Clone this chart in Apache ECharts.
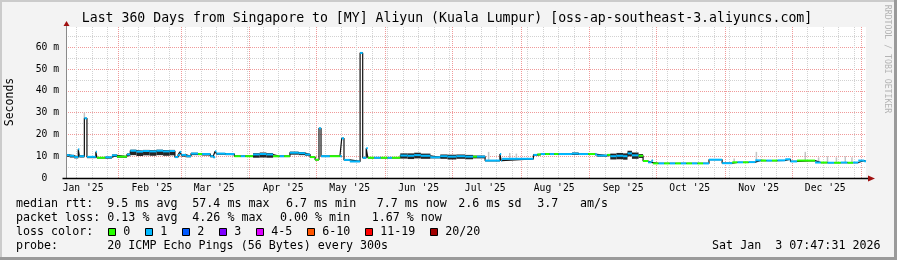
<!DOCTYPE html>
<html><head><meta charset="utf-8">
<script src="https://cdn.jsdelivr.net/npm/echarts@6/dist/echarts.min.js"></script>
<style>html,body{margin:0;padding:0;background:#f3f3f3}#c{width:897px;height:260px}</style>
</head><body><div id="c"></div>
<script>
// ---------------- data ----------------
const rangeStart = '2025-01-08T07:47';
const rangeEnd = '2026-01-03T07:47';
const times = [
'2025-01-08T08:00','2025-01-10T00:00','2025-01-12T00:00','2025-01-13T20:00','2025-01-14T08:00','2025-01-16T14:00','2025-01-17T18:00','2025-01-21T18:00','2025-01-22T06:00','2025-01-26T00:00',
'2025-01-29T00:00','2025-01-31T06:00','2025-02-04T18:00','2025-02-06T06:00','2025-02-09T00:00','2025-02-12T00:00','2025-02-15T00:00','2025-02-18T00:00','2025-02-21T00:00','2025-02-24T00:00',
'2025-02-26T08:00','2025-02-27T18:00','2025-02-28T14:00','2025-03-01T06:00','2025-03-03T10:00','2025-03-05T14:00','2025-03-08T18:00','2025-03-10T14:00','2025-03-14T06:00','2025-03-15T14:00',
'2025-03-16T10:00','2025-03-17T00:00','2025-03-21T00:00','2025-03-25T02:00','2025-03-28T00:00','2025-03-30T00:00','2025-04-02T12:00','2025-04-05T12:00','2025-04-08T12:00','2025-04-11T12:00',
'2025-04-14T12:00','2025-04-16T12:00','2025-04-19T02:00','2025-04-23T00:00','2025-04-25T22:00','2025-04-28T04:00','2025-04-30T10:00','2025-05-02T04:00','2025-05-03T02:00','2025-05-07T02:00',
'2025-05-11T14:00','2025-05-12T10:00','2025-05-13T10:00','2025-05-16T02:00','2025-05-20T16:00','2025-05-21T20:00','2025-05-23T10:00','2025-05-24T04:00','2025-05-27T00:00','2025-05-30T00:00',
'2025-06-02T00:00','2025-06-04T00:00','2025-06-07T18:00','2025-06-11T00:00','2025-06-14T00:00','2025-06-17T00:00','2025-06-21T08:00','2025-06-25T18:00','2025-06-29T00:00','2025-07-03T00:00',
'2025-07-07T00:00','2025-07-10T12:00','2025-07-12T06:00','2025-07-15T22:00','2025-07-22T14:00','2025-07-23T04:00','2025-07-23T14:00','2025-08-06T16:00','2025-08-08T10:00','2025-08-10T00:00',
'2025-08-12T00:00','2025-08-14T00:00','2025-08-16T00:00','2025-08-18T00:00','2025-08-24T00:00','2025-08-27T00:00','2025-08-31T08:00','2025-09-03T10:00','2025-09-04T08:00','2025-09-08T20:00',
'2025-09-10T06:00','2025-09-13T00:00','2025-09-16T00:00','2025-09-18T00:00','2025-09-20T00:00','2025-09-23T00:00','2025-09-25T00:00','2025-09-27T06:00','2025-09-28T20:00','2025-09-29T12:00',
'2025-10-02T00:00','2025-10-04T12:00','2025-10-07T00:00','2025-10-09T12:00','2025-10-12T00:00','2025-10-14T12:00','2025-10-17T00:00','2025-10-19T12:00','2025-10-22T00:00','2025-10-24T16:00',
'2025-10-30T14:00','2025-11-04T04:00','2025-11-06T12:00','2025-11-09T00:00','2025-11-11T12:00','2025-11-14T12:00','2025-11-17T00:00','2025-11-19T12:00','2025-11-22T00:00','2025-11-24T12:00',
'2025-11-28T00:00','2025-11-30T08:00','2025-12-03T08:00','2025-12-11T10:00','2025-12-14T00:00','2025-12-17T00:00','2025-12-20T00:00','2025-12-23T00:00','2025-12-26T00:00','2025-12-28T12:00',
'2025-12-30T20:00','2026-01-02T12:00'
];
const medianMs = [
10.5,10.2,9.6,13.2,10.0,27.4,9.7,12.0,9.3,9.5,
10.4,9.8,10.8,12.5,12.1,12.4,12.2,12.5,12.2,12.4,
9.6,10.6,12.0,10.6,10.0,11.2,11.0,11.0,10.0,9.5,
12.3,11.2,11.0,10.0,10.0,10.0,10.8,11.0,10.8,10.0,
10.0,10.0,11.6,11.4,10.8,9.6,8.4,22.8,10.0,10.0,
10.0,18.2,8.3,7.6,57.4,9.3,13.6,9.3,9.3,9.3,
9.3,9.3,10.3,10.2,10.5,10.2,9.5,10.0,9.8,10.0,
9.8,9.8,9.8,8.0,11.0,8.0,8.8,10.6,10.8,11.0,
11.0,11.0,11.0,11.0,11.2,11.0,11.0,10.8,10.3,10.6,
10.0,10.2,10.0,11.3,10.4,10.2,7.8,7.2,8.0,6.7,
6.7,6.7,6.7,6.7,6.7,6.7,6.7,6.7,6.7,8.4,
6.8,7.2,7.2,7.2,7.3,8.1,8.0,8.0,8.0,8.1,
8.6,7.6,8.0,7.1,7.1,7.0,7.0,7.1,7.0,7.1,
8.0,7.7
];
const lossCount = [
1,1,1,1,1,1,1,1,0,1,
1,0,1,1,1,1,1,1,1,1,
1,1,1,1,1,1,0,1,1,1,
1,1,1,0,1,0,1,1,1,0,
1,0,1,1,1,0,0,1,1,0,
1,1,1,1,1,1,1,0,1,0,
1,0,1,1,1,1,1,1,1,1,
1,0,1,1,1,1,1,1,0,1,
0,1,0,1,1,1,0,1,1,0,
1,1,1,1,1,0,0,1,1,0,
1,0,1,0,1,0,1,0,1,1,
1,0,1,0,1,1,0,1,0,1,
1,1,0,1,0,1,0,1,0,1,
1,1
];
// dark jitter below / above the median (ms)
const noiseDownMs = [
0.8,0.8,0.6,0,0.6,0,0.6,0,0.3,0.6,
0.7,0.5,0.8,2.0,2.0,2.0,2.0,2.0,2.0,2.0,
0.4,0.6,0,0.8,0.5,0.7,0.5,0.7,0.5,0.3,
0,0.5,0.5,0.3,0.3,0.3,1.5,1.6,1.5,0.4,
0.4,0.4,0.9,0.9,0.6,0.4,0.3,0,0.4,0.3,
0.3,0,0.3,0.3,0,0.3,0,0.3,0.3,0.3,
0.3,0.3,1.4,1.5,1.5,1.4,0.5,1.2,1.3,1.2,
1.2,0.8,0.8,0.3,0,0.2,0.3,0.4,0.4,0.4,
0.4,0.4,0.4,0.4,0.6,0.4,0.4,0.4,0.5,0.6,
1.5,1.6,1.6,1.4,1.6,1.0,0.3,0.3,0.3,0,
0,0,0,0,0,0,0,0,0,0,
0,0,0,0,0,0,0,0,0,0,
0,0,0,0,0,0,0,0,0,0,
0,0
];
const noiseUpMs = [
0.4,0.4,0.3,0,0.3,0,0.3,0,0.2,0.3,
0.4,0.3,0.4,0.5,0.5,0.5,0.5,0.5,0.5,0.5,
0.2,0.3,0,0.4,0.3,0.4,0.3,0.4,0.3,0.2,
0,0.3,0.3,0.2,0.2,0.2,0.6,0.7,0.6,0.2,
0.2,0.2,0.5,0.5,0.3,0.2,0.2,0,0.2,0.2,
0.2,0,0.2,0.2,0,0.2,0,0.2,0.2,0.2,
0.2,0.2,1.0,1.1,1.1,1.0,0.3,0.8,0.9,0.8,
0.8,0.5,0.5,0.2,0,0.1,0.2,0.3,0.3,0.3,
0.3,0.3,0.3,0.3,0.5,0.3,0.3,0.3,0.3,0.4,
1.2,1.3,1.3,1.2,1.3,0.8,0.2,0.2,0.2,0,
0,0,0,0,0,0,0,0,0,0,
0,0,0,0,0,0,0,0,0,0,
0,0,0,0,0,0,0,0,0,0,
0,0
];
// light grey "smoke" ticks (ping spread) above the median
const smokeTimes = ['2025-01-16T14:00','2025-07-17T12:00','2025-07-27T00:00','2025-07-30T00:00','2025-11-05T00:00','2025-11-15T00:00','2025-12-07T00:00','2025-12-13T00:00','2025-12-17T00:00','2025-12-21T00:00','2025-12-25T00:00','2025-12-28T00:00'];
const smokeLowMs  = [27.4, 8.0, 8.8, 8.8, 7.2, 8.1, 8.0, 7.1, 7.0, 7.0, 7.0, 7.1];
const smokeHighMs = [30.0, 12.0, 11.5, 11.2, 9.0, 12.0, 12.0, 9.5, 10.0, 9.5, 10.0, 9.5];
const monthStarts = ['2025-02-01','2025-03-01','2025-04-01','2025-05-01','2025-06-01','2025-07-01','2025-08-01','2025-09-01','2025-10-01','2025-11-01','2025-12-01','2026-01-01'];
const monthLabelAt = ['2025-01-16','2025-02-16','2025-03-16','2025-04-16','2025-05-16','2025-06-16','2025-07-16','2025-08-16','2025-09-16','2025-10-16','2025-11-16','2025-12-16'];
const monthLabels = ["Jan '25","Feb '25","Mar '25","Apr '25","May '25","Jun '25","Jul '25","Aug '25","Sep '25","Oct '25","Nov '25","Dec '25"];
const weekLines = ['2025-01-13','2025-01-20','2025-01-27','2025-02-03','2025-02-10','2025-02-17','2025-02-24','2025-03-03','2025-03-10','2025-03-17','2025-03-24','2025-03-31','2025-04-07','2025-04-14','2025-04-21','2025-04-28','2025-05-05','2025-05-12','2025-05-19','2025-05-26','2025-06-02','2025-06-09','2025-06-16','2025-06-23','2025-06-30','2025-07-07','2025-07-14','2025-07-21','2025-07-28','2025-08-04','2025-08-11','2025-08-18','2025-08-25','2025-09-01','2025-09-08','2025-09-15','2025-09-22','2025-09-29','2025-10-06','2025-10-13','2025-10-20','2025-10-27','2025-11-03','2025-11-10','2025-11-17','2025-11-24','2025-12-01','2025-12-08','2025-12-15','2025-12-22','2025-12-29'];
const yLabelValues = [0,10,20,30,40,50,60];
const yLabelTexts = ['0  ','10 m','20 m','30 m','40 m','50 m','60 m'];
const yMajorLines = [10,20,30,40,50,60];
const yMinorLines = [5,15,25,35,45,55,65];
const yMax = 69.3;
const lossLegend = ['0','1','2','3','4-5','6-10','11-19','20/20'];
const lossColors = ['#26ff00','#00b8ff','#0059ff','#7e00ff','#dd00ff','#ff5500','#ff0000','#a10000'];
const titleText = 'Last 360 Days from Singapore to [MY] Aliyun (Kuala Lumpur) [oss-ap-southeast-3.aliyuncs.com]';
const statRows = [
  [['median rtt:',16],['9.5 ms avg',107.3],['57.4 ms max',192.3],['6.7 ms min',286],['7.7 ms now',376.7],['2.6 ms sd',458.3],['3.7',537.3],['am/s',580]],
  [['packet loss:',16],['0.13 % avg',107.3],['4.26 % max',192.3],['0.00 % min',280],['1.67 % now',371.7]],
  [['loss color:',16]],
  [['probe:',16],['20 ICMP Echo Pings (56 Bytes) every 300s',107.3]]
];
const stampText = 'Sat Jan  3 07:47:31 2026';

// ---------------- chart ----------------
const MONO = '"DejaVu Sans Mono", monospace';
const toMs = s => Date.parse(s.length === 10 ? s + 'T00:00' : s);
const tStart = toMs(rangeStart), tEnd = toMs(rangeEnd);
const T = times.map(toMs);
const nextT = i => (i + 1 < T.length ? T[i + 1] : tEnd);
const labelMap = {};
monthLabelAt.forEach((d, i) => { labelMap[toMs(d)] = monthLabels[i]; });
const yLabelMap = {};
yLabelValues.forEach((v, i) => { yLabelMap[v] = yLabelTexts[i]; });
function lossIndex(n) { if (n <= 3) return n; if (n <= 5) return 4; if (n <= 10) return 5; if (n <= 19) return 6; return 7; }

const lineData = T.map((t, i) => [t, medianMs[i]]).concat([[tEnd, medianMs[medianMs.length - 1]]]);
const bandData = T.map((t, i) => [t, medianMs[i] - noiseDownMs[i], nextT(i), medianMs[i] + noiseUpMs[i]]);
const colorData = T.map((t, i) => [t, medianMs[i], nextT(i), lossCount[i]]);
const smokeData = smokeTimes.map((s, i) => [toMs(s), smokeLowMs[i], smokeHighMs[i]]);

const gridLineX = (vals, color) => ({
  type: 'value', min: tStart, max: tEnd, gridIndex: 0,
  axisLine: { show: false }, axisLabel: { show: false },
  axisTick: { show: false, customValues: vals.map(toMs) },
  splitLine: { show: true, lineStyle: { color, width: 1, type: [1, 1] } }
});
const gridLineY = (vals, color) => ({
  type: 'value', min: 0, max: yMax, gridIndex: 0, position: 'left',
  axisLine: { show: false }, axisLabel: { show: false },
  axisTick: { show: false, customValues: vals },
  splitLine: { show: true, lineStyle: { color, width: 1, type: [1, 1] } }
});

const chart = echarts.init(document.getElementById('c'), null, { renderer: 'canvas', width: 897, height: 260 });
chart.setOption({
  animation: false,
  backgroundColor: '#f3f3f3',
  grid: { left: 66, top: 27, width: 800, height: 151, show: true, backgroundColor: '#ffffff', borderWidth: 0 },
  xAxis: [
    {
      type: 'value', min: tStart, max: tEnd, gridIndex: 0,
      axisLine: { show: false }, axisTick: { show: false }, splitLine: { show: false },
      axisLabel: { customValues: monthLabelAt.map(toMs), formatter: v => labelMap[v] || '', fontFamily: MONO, fontSize: 9.7, color: '#000', margin: 5 }
    },
    gridLineX(weekLines, '#d2d2d2'),
    gridLineX(monthStarts, '#f09a9a')
  ],
  yAxis: [
    {
      type: 'value', min: 0, max: yMax, gridIndex: 0,
      axisLine: { show: false }, axisTick: { show: false }, splitLine: { show: false },
      axisLabel: { customValues: yLabelValues, formatter: v => yLabelMap[v] || '', fontFamily: MONO, fontSize: 9.7, color: '#000', margin: 7 }
    },
    gridLineY(yMinorLines, '#d2d2d2'),
    gridLineY(yMajorLines, '#f09a9a')
  ],
  series: [
    {
      type: 'custom', name: 'smoke', xAxisIndex: 0, yAxisIndex: 0, z: 2,
      encode: { x: [0], y: [1, 2] },
      data: smokeData,
      renderItem: (params, api) => {
        const p0 = api.coord([api.value(0), api.value(2)]);
        const p1 = api.coord([api.value(0), api.value(1)]);
        return { type: 'rect', shape: { x: p0[0] - 0.75, y: p0[1], width: 1.5, height: p1[1] - p0[1] }, style: { fill: '#c4c4c4' } };
      }
    },
    {
      type: 'custom', name: 'jitter', xAxisIndex: 0, yAxisIndex: 0, z: 3,
      encode: { x: [0, 2], y: [1, 3] },
      data: bandData,
      renderItem: (params, api) => {
        if (api.value(3) - api.value(1) <= 0.05) return null;
        const p0 = api.coord([api.value(0), api.value(3)]);
        const p1 = api.coord([api.value(2), api.value(1)]);
        return { type: 'rect', shape: { x: p0[0], y: p0[1], width: p1[0] - p0[0], height: p1[1] - p0[1] }, style: { fill: '#262626' } };
      }
    },
    {
      type: 'line', name: 'median', xAxisIndex: 0, yAxisIndex: 0, z: 4,
      step: 'end', showSymbol: false, symbol: 'none',
      lineStyle: { color: '#111', width: 1.2 },
      data: lineData
    },
    {
      type: 'custom', name: 'loss', xAxisIndex: 0, yAxisIndex: 0, z: 5,
      encode: { x: [0, 2], y: [1] },
      data: colorData,
      renderItem: (params, api) => {
        const p0 = api.coord([api.value(0), api.value(1)]);
        const p1 = api.coord([api.value(2), api.value(1)]);
        return { type: 'rect', shape: { x: p0[0], y: p0[1] - 1, width: p1[0] - p0[0], height: 2 }, style: { fill: lossColors[lossIndex(api.value(3))] } };
      }
    }
  ]
});

// ---- decorations: frame, title, axis lines & arrows, legend ----
const o = chart.convertToPixel({ gridIndex: 0 }, [tStart, 0]);
const tr = chart.convertToPixel({ gridIndex: 0 }, [tEnd, yMax]);
const ax = Math.round(o[0]) + 0.5, ay = Math.round(o[1]) + 0.5;
const g = [];
g.push({ type: 'rect', shape: { x: 0, y: 0, width: 897, height: 2 }, style: { fill: '#cbcbcb' }, z: 10 });
g.push({ type: 'rect', shape: { x: 0, y: 0, width: 2, height: 260 }, style: { fill: '#cbcbcb' }, z: 10 });
g.push({ type: 'rect', shape: { x: 0, y: 257, width: 897, height: 3 }, style: { fill: '#9a9a9a' }, z: 11 });
g.push({ type: 'rect', shape: { x: 894, y: 0, width: 3, height: 260 }, style: { fill: '#9a9a9a' }, z: 11 });
g.push({ type: 'text', x: 447, y: 18.5, style: { text: titleText, font: '13.2px ' + MONO, fill: '#000', align: 'center', verticalAlign: 'middle' }, z: 10 });
g.push({ type: 'text', x: 10, y: 102, rotation: Math.PI / 2, style: { text: 'Seconds', font: '11.5px ' + MONO, fill: '#000', align: 'center', verticalAlign: 'middle' }, z: 10 });
g.push({ type: 'text', x: 887, y: 59, rotation: -Math.PI / 2, style: { text: 'RRDTOOL / TOBI OETIKER', font: '8.2px ' + MONO, fill: '#b4b4b4', align: 'center', verticalAlign: 'middle' }, z: 10 });
// axis lines
g.push({ type: 'line', shape: { x1: ax, y1: ay, x2: ax, y2: tr[1] - 3 }, style: { stroke: '#8a8a8a', lineWidth: 1 }, z: 20 });
g.push({ type: 'line', shape: { x1: ax - 4, y1: ay, x2: tr[0] + 2, y2: ay }, style: { stroke: '#000', lineWidth: 1.5 }, z: 20 });
g.push({ type: 'polygon', shape: { points: [[ax - 3, tr[1] - 1], [ax + 3, tr[1] - 1], [ax, tr[1] - 6]] }, style: { fill: '#a01010' }, z: 21 });
g.push({ type: 'polygon', shape: { points: [[tr[0] + 2, ay - 3], [tr[0] + 2, ay + 3], [tr[0] + 9, ay]] }, style: { fill: '#a01010' }, z: 21 });
// stats text
const rowY = [204.3, 218.3, 232.3, 246];
statRows.forEach((row, r) => row.forEach(([txt, x]) => {
  g.push({ type: 'text', x, y: rowY[r], style: { text: txt, font: '11.67px ' + MONO, fill: '#000', verticalAlign: 'middle' }, z: 10 });
}));
let bx = 108.3;
lossLegend.forEach((lab, i) => {
  g.push({ type: 'rect', shape: { x: Math.round(bx) + 0.5, y: 228.5, width: 7, height: 7 }, style: { fill: lossColors[i], stroke: '#000', lineWidth: 1 }, z: 10 });
  g.push({ type: 'text', x: bx + 15, y: rowY[2], style: { text: lab, font: '11.67px ' + MONO, fill: '#000', verticalAlign: 'middle' }, z: 10 });
  bx += 30 + 7 * lab.length;
});
g.push({ type: 'text', x: 880.5, y: rowY[3], style: { text: stampText, font: '11.67px ' + MONO, fill: '#000', align: 'right', verticalAlign: 'middle' }, z: 10 });
chart.setOption({ graphic: g });
</script>
</body></html>
